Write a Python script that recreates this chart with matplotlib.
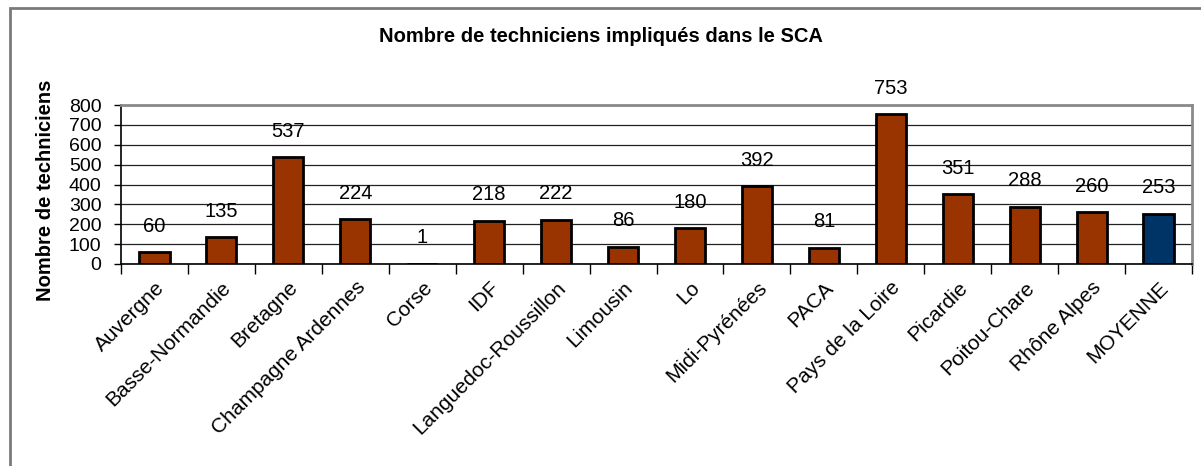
import matplotlib
matplotlib.use("Agg")
import matplotlib.pyplot as plt
from matplotlib.patches import Rectangle
import numpy as np

categories = ["Auvergne", "Basse-Normandie", "Bretagne", "Champagne Ardennes", "Corse",
              "IDF", "Languedoc-Roussillon", "Limousin", "Lo", "Midi-Pyrénées", "PACA",
              "Pays de la Loire", "Picardie", "Poitou-Chare", "Rhône Alpes", "MOYENNE"]
values = [60, 135, 537, 224, 1, 218, 222, 86, 180, 392, 81, 753, 351, 288, 260, 253]
colors = ["#993300"] * 15 + ["#003366"]
yticks = [0, 100, 200, 300, 400, 500, 600, 700, 800]

W, H = 1201, 466
fig = plt.figure(figsize=(W / 100, H / 100), dpi=100)
fig.patch.set_facecolor("white")

# outer frame
fig.patches.append(Rectangle((10 / W, -0.1), 1.2, (H - 8) / H + 0.1, transform=fig.transFigure,
                             fill=False, edgecolor="#7a7a7a", linewidth=2))

ax = fig.add_axes([121 / W, 1 - 264 / H, (1192 - 121) / W, (264 - 105) / H])
x = np.arange(len(categories))
ax.bar(x, values, width=0.45, color=colors, edgecolor="black", linewidth=2, zorder=3)
for xi, v in zip(x, values):
    ax.annotate(str(v), (xi, v), xytext=(0, 26), textcoords="offset pixels",
                ha="center", va="center", fontsize=14.5, family="Liberation Sans", zorder=4)

ax.set_xlim(-0.5, len(categories) - 0.5)
ax.set_ylim(0, 800)
ax.set_yticks(yticks)
ax.set_yticklabels([str(t) for t in yticks], fontsize=14, family="Liberation Sans")
ax.yaxis.grid(True, color="#222222", linewidth=0.9, zorder=0)
ax.set_axisbelow(True)
ax.tick_params(axis="y", direction="out", length=5, width=1, pad=9)

ax.set_xticks(np.arange(len(categories) + 1) - 0.5)
ax.set_xticklabels([])
ax.tick_params(axis="x", direction="out", length=7, width=1)
ax.set_xticks(x, minor=True)
ax.set_xticklabels(categories, minor=True, rotation=45, ha="right", rotation_mode="anchor",
                   fontsize=15, family="Liberation Sans")
ax.tick_params(axis="x", which="minor", length=0, pad=10)
for lbl in ax.get_xticklabels(minor=True):
    lbl.set_x(lbl.get_position()[0] + 0.12)

for s in ["top", "right"]:
    ax.spines[s].set_color("#8a8a8a")
    ax.spines[s].set_linewidth(2)
ax.spines["left"].set_color("black")
ax.spines["bottom"].set_color("black")
ax.spines["left"].set_linewidth(1.2)
ax.spines["bottom"].set_linewidth(1.2)

fig.text(0.5, 1 - 37 / H, "Nombre de techniciens impliqués dans le SCA", ha="center", va="center",
         fontsize=14.5, fontweight="bold", family="Liberation Sans")
fig.text(46 / W, 1 - 190 / H, "Nombre de techniciens", rotation=90, ha="center", va="center",
         fontsize=14.5, fontweight="bold", family="Liberation Sans")

fig.savefig("out.png", dpi=100, facecolor="white")
